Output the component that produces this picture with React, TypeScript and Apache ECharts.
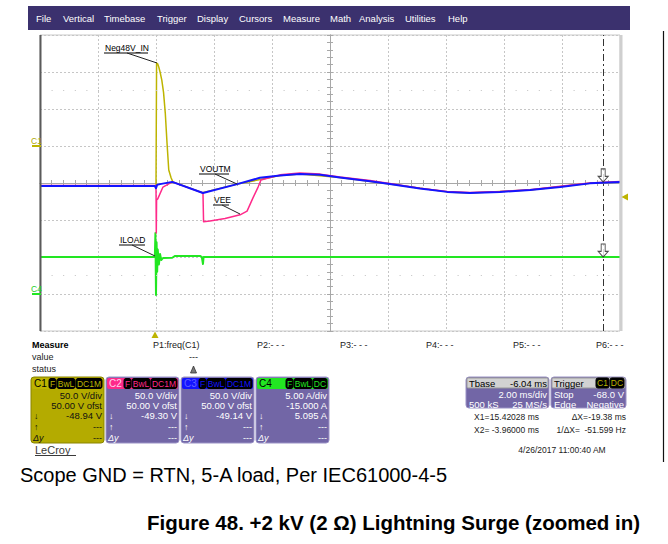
import React, { useEffect, useRef } from "react";
import * as echarts from "echarts";

// ---- Data (x in divisions from centre, 2 ms/div; y in divisions from centre) ----
const yellowNeg48V: [number, number][] = [
  [-5, -0.08], [-3.0, -0.08], [-2.99, 3.24], [-2.97, 3.22], [-2.95, 3.12], [-2.93, 3.0],
  [-2.9, 2.78], [-2.87, 2.45], [-2.84, 1.89], [-2.81, 1.08], [-2.78, 0.35], [-2.74, 0.14],
  [-2.71, 0.03], [-2.2, -0.26], [-1.6, -0.03], [-0.86, 0.2], [-0.52, 0.24], [0.17, 0.15],
  [1.03, -0.03], [2.02, -0.24], [2.41, -0.27], [3.45, -0.19], [4.48, -0.01], [5, 0.03],
];
const blueVoutm: [number, number][] = [
  [-5, -0.08], [-3.02, -0.08], [-3.0, -0.14], [-2.98, -0.05], [-2.93, -0.03], [-2.72, 0.03],
  [-2.19, -0.27], [-1.6, -0.03], [-1.21, 0.14], [-0.86, 0.2], [-0.52, 0.24], [-0.17, 0.22],
  [0.17, 0.15], [0.69, 0.05], [1.03, -0.03], [1.55, -0.15], [2.02, -0.24], [2.41, -0.27],
  [2.93, -0.24], [3.45, -0.19], [3.97, -0.11], [4.48, -0.01], [5, 0.03],
];
const pinkVee: [number, number][] = [
  [-5, -0.07], [-3.0, -0.07], [-2.995, -1.35], [-2.99, -0.46], [-2.97, -0.43], [-2.88, -0.11],
  [-2.72, 0.03], [-2.19, -0.27], [-2.18, -1.05], [-2.07, -1.03], [-1.81, -0.96], [-1.55, -0.86],
  [-1.43, -0.76], [-1.33, -0.41], [-1.24, -0.11], [-1.19, 0.08], [-0.86, 0.22], [-0.52, 0.27],
  [-0.17, 0.24], [0.17, 0.16], [0.69, 0.07], [1.03, -0.01], [1.55, -0.14], [2.02, -0.23],
  [2.41, -0.26], [2.93, -0.23], [3.45, -0.18], [3.97, -0.09], [4.48, 0], [5, 0.04],
];
const greenIload: [number, number][] = [
  [-5, -2], [-3.02, -2], [-3.01, -1.35], [-3.0, -3.03], [-2.99, -1.6], [-2.98, -2.4],
  [-2.97, -1.8], [-2.95, -2.2], [-2.93, -1.92], [-2.91, -2.08], [-2.88, -2.03], [-2.72, -2.02],
  [-2.67, -1.97], [-2.24, -1.97], [-2.21, -2], [-2.19, -2.19], [-2.18, -2], [5, -2],
];
const cursorX = 4.71;
const cursorMarks: [number, number][] = [[4.71, 0.03], [4.71, -2.0]];

const menuItems = ["File", "Vertical", "Timebase", "Trigger", "Display", "Cursors", "Measure", "Math", "Analysis", "Utilities", "Help"];
const menuX = [36, 63, 104, 157, 197, 239, 283, 330, 359, 405, 448];

const measureParams = ["P1:freq(C1)", "P2:- - -", "P3:- - -", "P4:- - -", "P5:- - -", "P6:- - -"];
const measureX = [153, 257, 340, 426, 513, 596];

const chNames = ["C1", "C2", "C3", "C4"];
const chScale = ["50.0 V/div", "50.0 V/div", "50.0 V/div", "5.00 A/div"];
const chOffset = ["50.00 V ofst", "50.00 V ofst", "50.00 V ofst", "-15.000 A"];
const chMean = ["-48.94 V", "-49.30 V", "-49.14 V", "5.095 A"];
const chCoupling = [["F", "BwL", "DC1M"], ["F", "BwL", "DC1M"], ["F", "BwL", "DC1M"], ["F", "BwL", "DC"]];

const FONT = '"Liberation Sans", Arial, Helvetica, sans-serif';
const YEL = "#bdb400";
const PINK = "#ff2a8a";
const BLUE = "#1414ff";
const GREEN = "#22e622";
const PURPLE = "#7266a6";

type Opt = { fill?: string; size?: number; weight?: string; align?: string; italic?: boolean };
function txt(text: string, x: number, y: number, o: Opt = {}) {
  return {
    type: "text",
    silent: true,
    z: 100,
    style: {
      text,
      x,
      y,
      fill: o.fill || "#000",
      fontSize: o.size || 9,
      fontFamily: FONT,
      fontWeight: o.weight || "normal",
      fontStyle: o.italic ? "italic" : "normal",
      textAlign: o.align || "left",
      align: o.align || "left",
      textVerticalAlign: "middle",
      verticalAlign: "middle",
    },
  };
}
function ln(x1: number, y1: number, x2: number, y2: number, stroke: string, lineWidth = 1) {
  return { type: "line", silent: true, z: 100, shape: { x1, y1, x2, y2 }, style: { stroke, lineWidth } };
}
function rc(x: number, y: number, width: number, height: number, fill: string, stroke?: string, r = 0) {
  return {
    type: "rect",
    silent: true,
    z: 90,
    shape: { x, y, width, height, r },
    style: { fill, stroke: stroke || "none", lineWidth: 1 },
  };
}

function badgeRow(labels: string[], right: number, y: number, color: string) {
  const widths: Record<string, number> = { F: 7, BwL: 18, DC1M: 26, DC: 14, C1: 13 };
  const out: any[] = [];
  let x = right;
  for (let i = labels.length - 1; i >= 0; i--) {
    const w = widths[labels[i]] || 14;
    x -= w;
    out.push(rc(x, y, w, 10, "#000", "#000", 2));
    out.push(txt(labels[i], x + w / 2, y + 5.3, { fill: color, size: 8.5, align: "center" }));
    x -= 1;
  }
  return out;
}

function channelBox(i: number, x: number) {
  const isC1 = i === 0;
  const colors = [YEL, PINK, BLUE, GREEN];
  const headTxt = ["#000", "#ffd0ea", "#6060ff", "#000"];
  const body = isC1 ? "#b4ab00" : PURPLE;
  const tc = isC1 ? "#111" : "#fff";
  const right = x + 71;
  const els: any[] = [
    rc(x, 377, 73, 66, body, isC1 ? "#8a8400" : "#9a92c6", 3),
    rc(x + 1, 378, 71, 11, colors[i], undefined, 2),
    txt(chNames[i], x + 3, 383.8, { fill: headTxt[i], size: 10 }),
    ...badgeRow(chCoupling[i], right, 378.5, colors[i]),
    txt(chScale[i], right, 395, { fill: tc, align: "right", size: 9.5 }),
    txt(chOffset[i], right, 405, { fill: tc, align: "right", size: 9.5 }),
    txt("↓", x + 3, 416, { fill: tc, size: 9 }),
    txt(chMean[i], right, 415.5, { fill: tc, align: "right", size: 9.5 }),
    txt("↑", x + 3, 427, { fill: tc, size: 9 }),
    txt("---", right, 427, { fill: tc, align: "right", size: 9 }),
    txt("Δy", x + 2, 438, { fill: tc, size: 9, italic: true }),
    txt("---", right, 438, { fill: tc, align: "right", size: 9 }),
  ];
  return els;
}

function buildGraphic() {
  const g: any[] = [];
  // menu bar
  g.push(rc(28, 6, 602, 24, "#3b316e"));
  menuItems.forEach((m, i) => g.push(txt(m, menuX[i], 18.5, { fill: "#fff", size: 9.5 })));
  // right frame line
  g.push(ln(663.5, 31, 663.5, 462, "#111", 1.2));
  // plot borders
  g.push(ln(40.5, 35, 40.5, 331, "#5a5a5a", 2));
  g.push(ln(621, 35, 621, 331, "#cfcfcf", 3));
  // channel ground markers
  g.push(txt("C1", 31, 140.5, { fill: "#b0a800", size: 8.5 }));
  g.push(ln(32, 146, 41, 146, YEL, 2));
  g.push(txt("C4", 31, 288.5, { fill: "#1ed01e", size: 8.5 }));
  g.push(ln(32, 294, 41, 294, GREEN, 2));
  // trigger markers
  g.push({ type: "polygon", silent: true, z: 100, shape: { points: [[151.5, 338], [158.5, 338], [155, 331.5]] }, style: { fill: YEL } });
  g.push({ type: "polygon", silent: true, z: 100, shape: { points: [[628, 193.5], [628, 200.5], [621.5, 197]] }, style: { fill: YEL } });
  // annotations
  const ann = (t: string, tx: number, ty: number, uw: number, lx1: number, lx2: number, ly2: number) => {
    g.push(txt(t, tx, ty, { size: 8.5 }));
    g.push(ln(tx - 1, ty + 5.5, tx + uw, ty + 5.5, "#000", 1));
    g.push(ln(lx1, ty + 5.5, lx2, ly2, "#222", 1));
  };
  ann("Neg48V_IN", 105, 47.5, 43, 127, 157, 63);
  ann("VOUTM", 200, 168.5, 29, 215, 237, 184);
  ann("VEE", 214, 199.5, 15, 222, 240, 214);
  ann("ILOAD", 120, 239.5, 25, 132, 155, 256);
  // measure area
  g.push(txt("Measure", 32, 345, { size: 9, weight: "bold" }));
  g.push(txt("value", 32, 357, { size: 9, fill: "#222" }));
  g.push(txt("status", 32, 369, { size: 9, fill: "#222" }));
  measureParams.forEach((p, i) => g.push(txt(p, measureX[i], 345, { size: 9, fill: "#222" })));
  g.push(txt("---", 193.5, 357, { size: 9, fill: "#222", align: "center" }));
  g.push({ type: "polygon", silent: true, z: 100, shape: { points: [[190.5, 373], [196.5, 373], [193.5, 366]] }, style: { fill: "#777", stroke: "#333", lineWidth: 0.8 } });
  // channel boxes
  [31, 106, 181, 256].forEach((x, i) => g.push(...channelBox(i, x)));
  // LeCroy
  g.push(txt("LeCroy", 35, 449.5, { size: 11, fill: "#3a3a3a" }));
  g.push(ln(35, 455.5, 76, 455.5, "#3a3a3a", 1));
  // timebase box
  g.push(rc(466, 377, 83, 31, PURPLE, "#9a92c6", 3));
  g.push(rc(467, 378, 81, 10, "#d2d2d2", "#999", 1));
  g.push(txt("Tbase", 469, 383.2, { size: 9.5 }));
  g.push(txt("-6.04 ms", 547, 383.2, { size: 9.5, align: "right" }));
  g.push(txt("2.00 ms/div", 547, 394, { size: 9.5, align: "right", fill: "#fff" }));
  g.push(txt("500 kS", 469, 404, { size: 9.5, fill: "#fff" }));
  g.push(txt("25 MS/s", 547, 404, { size: 9.5, align: "right", fill: "#fff" }));
  // trigger box
  g.push(rc(551, 377, 75, 31, PURPLE, "#9a92c6", 3));
  g.push(rc(552, 378, 73, 10, "#d2d2d2", "#999", 1));
  g.push(txt("Trigger", 554, 383.2, { size: 9.5 }));
  g.push(...badgeRow(["C1", "DC"], 624, 378, YEL));
  g.push(txt("Stop", 554, 394, { size: 9.5, fill: "#fff" }));
  g.push(txt("-68.0 V", 624, 394, { size: 9.5, align: "right", fill: "#fff" }));
  g.push(txt("Edge", 554, 404, { size: 9.5, fill: "#fff" }));
  g.push(txt("Negative", 624, 404, { size: 9.5, align: "right", fill: "#fff" }));
  // cursor readouts
  const rs = 8.5;
  g.push(txt("X1=", 474, 417, { size: rs, fill: "#222" }));
  g.push(txt("15.42028 ms", 539, 417, { size: rs, fill: "#222", align: "right" }));
  g.push(txt("ΔX=", 588, 417, { size: rs, fill: "#222", align: "right" }));
  g.push(txt("-19.38 ms", 626, 417, { size: rs, fill: "#222", align: "right" }));
  g.push(txt("X2=", 474, 430, { size: rs, fill: "#222" }));
  g.push(txt("-3.96000 ms", 539, 430, { size: rs, fill: "#222", align: "right" }));
  g.push(txt("1/ΔX=", 580, 430, { size: rs, fill: "#222", align: "right" }));
  g.push(txt("-51.599 Hz", 626, 430, { size: rs, fill: "#222", align: "right" }));
  g.push(txt("4/26/2017 11:00:40 AM", 562, 450, { size: 8.5, fill: "#222", align: "center" }));
  // captions
  g.push(txt("Scope GND = RTN, 5-A load, Per IEC61000-4-5", 20, 475, { size: 20 }));
  g.push(txt("Figure 48. +2 kV (2 Ω) Lightning Surge (zoomed in)", 147, 522, { size: 20.5, weight: "bold" }));
  return g;
}

function makeAxis(kind: "x" | "y", idx: number) {
  const tickLine = { color: "#a8a8a8", width: 1 };
  const base: any = {
    type: "value",
    min: kind === "x" ? -5 : -4,
    max: kind === "x" ? 5 : 4,
    interval: 1,
    axisLabel: { show: false },
    axisLine: { show: true, onZero: true, lineStyle: { color: "#a8a8a8", width: 1 } },
    axisTick: { show: true, inside: true, length: 3, lineStyle: tickLine },
    minorTick: { show: true, splitNumber: 5, length: 3, lineStyle: tickLine },
    splitLine: { show: idx === 0, lineStyle: { color: "#c6c6c6", type: [2, 2], width: 1 } },
  };
  if (kind === "x") base.position = idx === 0 ? "bottom" : "top";
  else base.position = idx === 0 ? "left" : "right";
  return base;
}

export default function App() {
  const ref = useRef<HTMLDivElement>(null);
  useEffect(() => {
    document.body.style.margin = "0";
    const chart = echarts.init(ref.current!, undefined, { renderer: "svg" });
    const lineSeries = (name: string, data: [number, number][], color: string, width: number, z: number) => ({
      name,
      type: "line",
      data,
      symbol: "none",
      z,
      lineStyle: { color, width, join: "round" },
      silent: true,
    });
    chart.setOption({
      animation: false,
      backgroundColor: "#ffffff",
      grid: { left: 40, top: 35, width: 580, height: 296, show: true, borderColor: "#c8c8c8", borderWidth: 1, backgroundColor: "#fff" },
      xAxis: [makeAxis("x", 0), makeAxis("x", 1)],
      yAxis: [makeAxis("y", 0), makeAxis("y", 1)],
      series: [
        lineSeries("Neg48V_IN", yellowNeg48V, YEL, 1.5, 2),
        {
          ...lineSeries("ILOAD", greenIload, GREEN, 2, 3),
          markLine: {
            silent: true,
            symbol: "none",
            label: { show: false },
            data: [
              { yAxis: 2.5, lineStyle: { color: "#c0c0c0", type: [1, 10.6], width: 1 } },
              { yAxis: -2.5, lineStyle: { color: "#c0c0c0", type: [1, 10.6], width: 1 } },
            ],
          },
        },
        lineSeries("VEE", pinkVee, PINK, 1.5, 4),
        {
          ...lineSeries("VOUTM", blueVoutm, BLUE, 2, 5),
          markLine: {
            silent: true,
            symbol: "none",
            label: { show: false },
            data: [{ xAxis: cursorX, lineStyle: { color: "#333", type: [7, 3, 2, 3], width: 1 } }],
          },
        },
        {
          name: "cursor",
          type: "scatter",
          data: cursorMarks,
          z: 10,
          silent: true,
          symbol: "path://M3,0 L7,0 L7,8 L10,8 L5,14 L0,8 L3,8 Z",
          symbolSize: [10, 13],
          symbolOffset: [0, -6.5],
          itemStyle: { color: "#fff", borderColor: "#222", borderWidth: 1 },
        },
      ],
      graphic: buildGraphic(),
    });
    return () => chart.dispose();
  }, []);
  return <div ref={ref} style={{ position: "fixed", left: 0, top: 0, width: 668, height: 544 }} />;
}
